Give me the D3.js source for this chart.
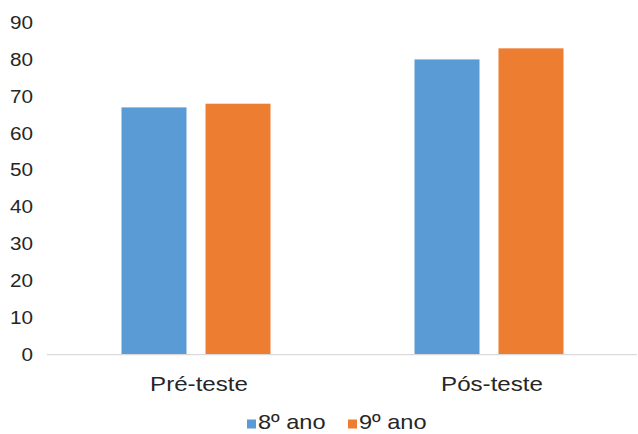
<!DOCTYPE html>
<html>
<head>
<meta charset="utf-8">
<script src="https://cdn.jsdelivr.net/npm/d3@7"></script>
<style>
  body { margin: 0; background: #fff; }
  svg { display: block; }
  text { font-family: "Liberation Sans", Arial, sans-serif; }
</style>
</head>
<body>
<svg id="chart" width="638" height="434"></svg>
<script>
const categories = ["Pré-teste", "Pós-teste"];
const seriesNames = ["8º ano", "9º ano"];
const values8 = [67, 80];
const values9 = [68, 83];
const yTicks = [0, 10, 20, 30, 40, 50, 60, 70, 80, 90];
const colors = ["#5b9bd5", "#ed7d31"];

(function () {
const svg = d3.select("#chart");
const SX = 1.15;
const mLeft = 47, mRight = 637, mTop = 22.5, mBottom = 354.7;

const y = d3.scaleLinear().domain([0, 90]).range([mBottom, mTop]);
const x = d3.scaleBand().domain(categories).range([49.5, 635.5]).padding(0);
const xs = d3.scaleBand().domain(seriesNames).range([0, 149]).paddingInner(19 / 84).paddingOuter(0);

// Y axis
const yAxis = svg.append("g")
  .attr("transform", `translate(${mLeft},0)`)
  .call(d3.axisLeft(y).tickValues(yTicks).tickSize(0).tickPadding(14));
yAxis.select(".domain").remove();
yAxis.selectAll("text")
  .attr("font-size", 18)
  .attr("fill", "#262626")
  .attr("font-family", "Liberation Sans, Arial, sans-serif")
  .each(function() {
    const t = d3.select(this);
    const xv = +t.attr("x");
    t.attr("x", xv / SX).attr("transform", `scale(${SX},1)`);
  });

// Bars
const data = categories.map((c, i) => ({ cat: c, vals: [values8[i], values9[i]] }));
const groups = svg.append("g").selectAll("g").data(data).join("g")
  .attr("transform", d => `translate(${x(d.cat) + x.bandwidth() / 2 - 74.5},0)`);
groups.selectAll("rect")
  .data(d => d.vals.map((v, j) => ({ s: seriesNames[j], v, j })))
  .join("rect")
  .attr("x", d => xs(d.s))
  .attr("width", xs.bandwidth())
  .attr("y", d => y(d.v))
  .attr("height", d => y(0) - y(d.v))
  .attr("fill", d => colors[d.j]);

// X axis
const xAxis = svg.append("g")
  .attr("transform", `translate(0,${mBottom})`)
  .call(d3.axisBottom(x).tickSize(0).tickPadding(22));
xAxis.select(".domain").remove();
svg.append("line")
  .attr("x1", mLeft).attr("x2", mRight)
  .attr("y1", mBottom).attr("y2", mBottom)
  .attr("stroke", "#d9d9d9").attr("stroke-width", 1.2);
xAxis.selectAll("text")
  .attr("font-size", 21)
  .attr("fill", "#262626")
  .attr("font-family", "Liberation Sans, Arial, sans-serif")
  .attr("dy", "0.68em")
  .each(function() {
    d3.select(this).attr("x", 3 / SX).attr("transform", `scale(${SX},1)`);
  });

// Legend
const legendItems = [
  { name: seriesNames[0], color: colors[0], x: 247 },
  { name: seriesNames[1], color: colors[1], x: 348 }
];
const lg = svg.append("g");
legendItems.forEach(it => {
  lg.append("rect").attr("x", it.x).attr("y", 419.5).attr("width", 9).attr("height", 9).attr("fill", it.color);
  lg.append("text")
    .attr("x", (it.x + 11) / SX).attr("y", 429.5)
    .attr("transform", `scale(${SX},1)`)
    .attr("font-size", 20.5)
    .attr("fill", "#262626")
    .text(it.name);
});
})();
</script>
</body>
</html>
